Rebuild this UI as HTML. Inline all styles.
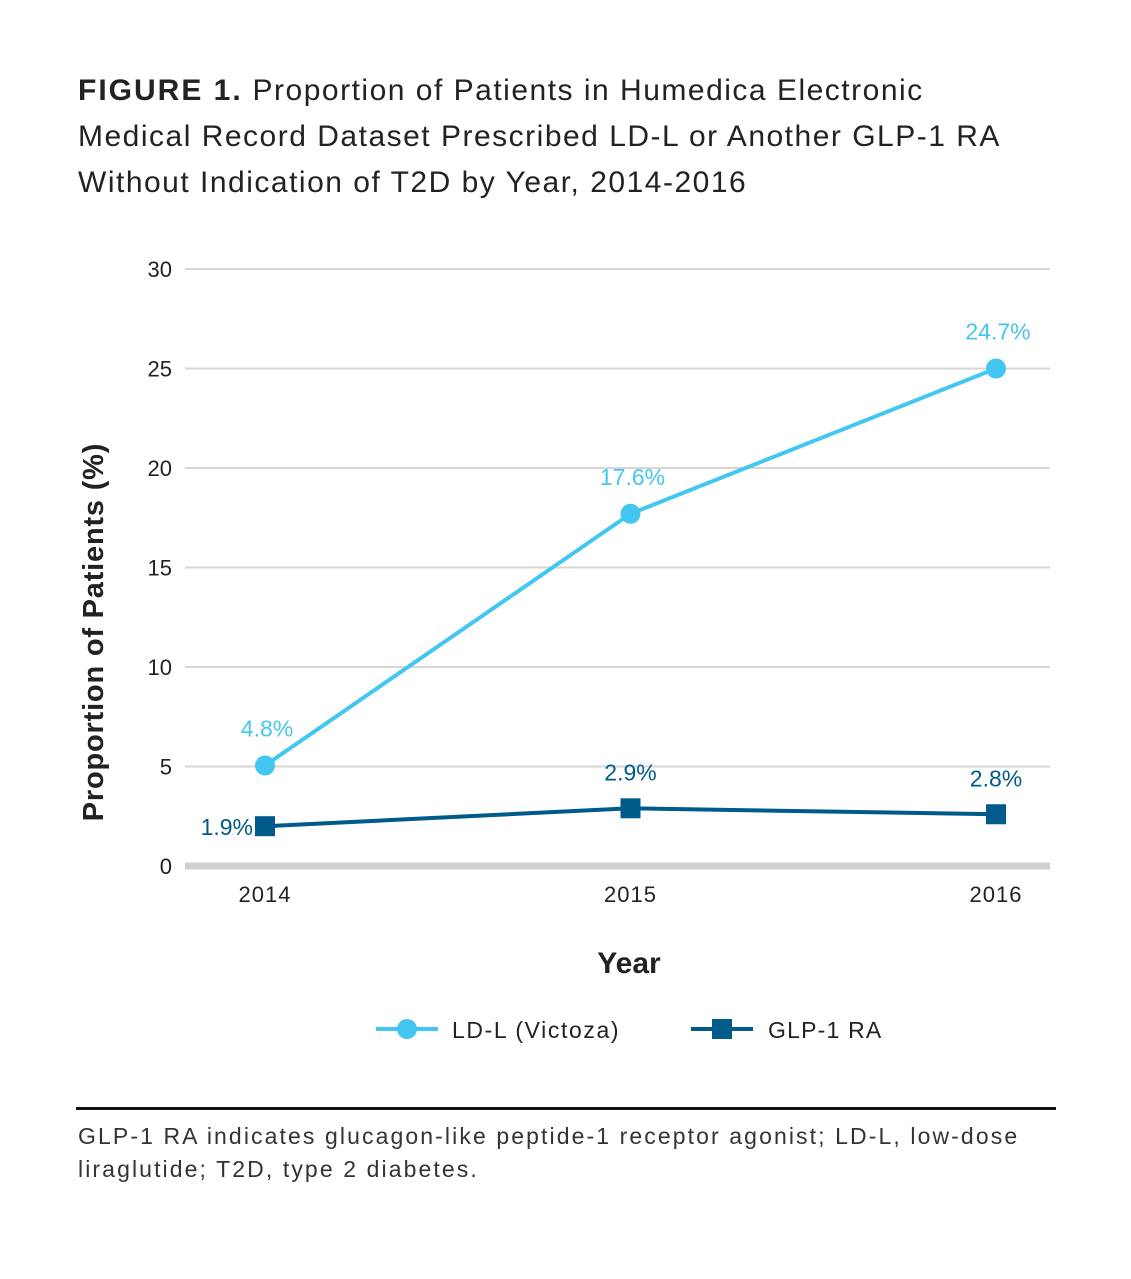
<!DOCTYPE html>
<html><head><meta charset="utf-8"><style>
body{margin:0;width:1131px;height:1279px;background:#fff;font-family:"Liberation Sans",sans-serif;overflow:hidden}
#title{position:absolute;left:78px;top:68px;font-size:30px;line-height:46px;color:#222;letter-spacing:1.5px}
#title b{letter-spacing:2px}
#foot{position:absolute;left:78px;top:1120px;font-size:23px;line-height:33px;color:#333;letter-spacing:2.1px}
#rule{position:absolute;left:76px;top:1107px;width:980px;height:3px;background:#111}
</style></head><body>
<div id="title"><b>FIGURE 1.</b> Proportion of Patients in Humedica Electronic<br>Medical Record Dataset Prescribed LD-L or Another GLP-1 RA<br>Without Indication of T2D by Year, 2014-2016</div>
<svg id="chart" width="1131" height="1100" style="position:absolute;left:0;top:0"></svg>
<div id="rule"></div>
<div id="foot">GLP-1 RA indicates glucagon-like peptide-1 receptor agonist; LD-L, low-dose<br>liraglutide; T2D, type 2 diabetes.</div>
<script>
const years=["2014","2015","2016"];
const ldl=[5.05,17.7,25.0];
const ldlLabels=["4.8%","17.6%","24.7%"];
const glp=[2.0,2.9,2.6];
const glpLabels=["1.9%","2.9%","2.8%"];
const yTicks=[0,5,10,15,20,25,30];
const NS="http://www.w3.org/2000/svg";
const svg=document.getElementById('chart');
const y=v=>866-v*19.9;
const x=i=>265+i*365.5;
function mk(t,a,txt){const e=document.createElementNS(NS,t);for(const k in a)e.setAttribute(k,a[k]);if(txt!==undefined)e.textContent=txt;svg.appendChild(e);return e;}
yTicks.forEach(v=>{
 if(v>0){const g=mk('line',{x1:185,x2:1050,y1:y(v),y2:y(v),stroke:'#d6d6d6','stroke-width':2});
 
 }
 const t=mk('text',{x:172,y:y(v)+8,'text-anchor':'end','font-size':22,fill:'#222'},v);
 
 
});
const base=mk('line',{x1:185,x2:1050,y1:866,y2:866,stroke:'#d0d0d0','stroke-width':7});


years.forEach((yr,i)=>{const t=mk('text',{x:x(i),y:902,'text-anchor':'middle','font-size':22,'letter-spacing':1,fill:'#222'},yr);
 
 });
const xt=mk('text',{x:629,y:973,'text-anchor':'middle','font-size':30,'font-weight':'bold',fill:'#222'},'Year');


const yt=mk('text',{x:0,y:0,transform:'translate(103,632) rotate(-90)','text-anchor':'middle','font-size':29,'font-weight':'bold','letter-spacing':0.8,fill:'#222'},'Proportion of Patients (%)');


const c1='#43c6f0',c2='#005a8a';
const l1=mk('polyline',{points:ldl.map((v,i)=>x(i)+','+y(v)).join(' '),fill:'none',stroke:c1,'stroke-width':4});


const l2=mk('polyline',{points:glp.map((v,i)=>x(i)+','+y(v)).join(' '),fill:'none',stroke:c2,'stroke-width':4});


ldl.forEach((v,i)=>{const p=mk('circle',{cx:x(i),cy:y(v),r:10,fill:c1});
 
 
 const t=mk('text',{x:x(i)+2,y:y(v)-29,'text-anchor':'middle','font-size':23,fill:c1},ldlLabels[i]);
 
 });
glp.forEach((v,i)=>{const p=mk('rect',{x:x(i)-10,y:y(v)-10,width:20,height:20,fill:c2});
 
 
 const t=i===0?mk('text',{x:x(i)-12,y:y(v)+9,'text-anchor':'end','font-size':23,fill:c2},glpLabels[i])
  :mk('text',{x:x(i),y:y(v)-28,'text-anchor':'middle','font-size':23,fill:c2},glpLabels[i]);
 
 });
const g1=mk('line',{x1:376,x2:438,y1:1029,y2:1029,stroke:c1,'stroke-width':4});


mk('circle',{cx:407,cy:1029,r:10,fill:c1});
const lt1=mk('text',{x:452,y:1038,'font-size':23,'letter-spacing':1.6,fill:'#222'},'LD-L (Victoza)');


const g2=mk('line',{x1:691,x2:753,y1:1029,y2:1029,stroke:c2,'stroke-width':4});


mk('rect',{x:712,y:1019,width:20,height:20,fill:c2});
const lt2=mk('text',{x:768,y:1038,'font-size':23,'letter-spacing':1.2,fill:'#222'},'GLP-1 RA');


</script>
</body></html>
